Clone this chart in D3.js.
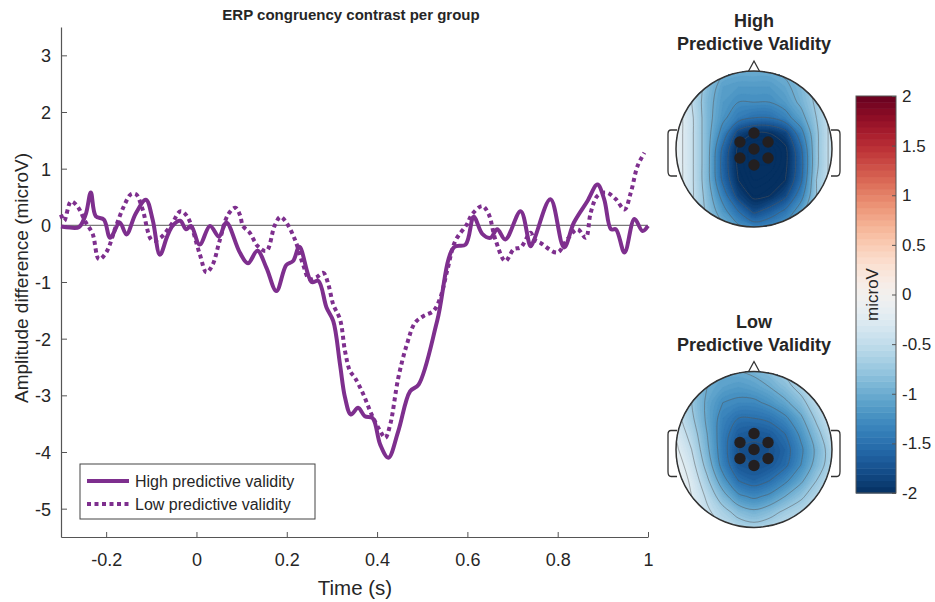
<!DOCTYPE html>
<html>
<head>
<meta charset="utf-8">
<script src="https://d3js.org/d3.v7.min.js"></script>
<style>
  body { margin: 0; background: #fff; }
  text { font-family: "Liberation Sans", Arial, sans-serif; fill: #262626; }
</style>
</head>
<body>
<script>
// ---- data ----
// [time (s), amplitude (microV)]
const highSeries = [
  [-0.3,-0.02],[-0.28,-0.04],[-0.26,-0.03],[-0.245,0.2],[-0.234,0.58],[-0.223,0.16],[-0.205,0.1],
  [-0.191,-0.22],[-0.17,0.05],[-0.155,-0.16],[-0.135,0.2],[-0.112,0.45],[-0.097,0.1],[-0.081,-0.52],
  [-0.065,-0.2],[-0.053,-0.01],[-0.036,0.08],[-0.023,-0.07],[-0.012,-0.01],[0.007,-0.34],[0.03,-0.01],
  [0.05,-0.2],[0.066,0.05],[0.096,-0.48],[0.114,-0.67],[0.135,-0.45],[0.155,-0.75],[0.177,-1.16],
  [0.199,-0.7],[0.214,-0.63],[0.228,-0.38],[0.255,-1.0],[0.27,-0.98],[0.288,-1.45],[0.303,-1.69],
  [0.318,-2.46],[0.329,-3.04],[0.342,-3.34],[0.358,-3.22],[0.373,-3.37],[0.39,-3.4],[0.407,-3.87],
  [0.425,-4.1],[0.447,-3.63],[0.473,-2.93],[0.492,-2.81],[0.533,-1.69],[0.57,-0.39],[0.596,-0.34],
  [0.614,0.15],[0.633,-0.15],[0.651,-0.22],[0.666,-0.07],[0.684,-0.25],[0.718,0.25],[0.74,-0.37],
  [0.748,-0.25],[0.784,0.46],[0.814,-0.39],[0.836,0.05],[0.866,0.43],[0.888,0.72],[0.903,0.46],
  [0.918,-0.07],[0.929,-0.07],[0.948,-0.48],[0.97,0.11],[0.988,-0.1],[1.0,-0.01]
];
const lowSeries = [
  [-0.3,0.19],[-0.293,0.08],[-0.278,0.42],[-0.264,0.34],[-0.245,0.05],[-0.23,-0.15],[-0.216,-0.6],
  [-0.2,-0.48],[-0.178,-0.01],[-0.16,0.35],[-0.145,0.55],[-0.134,0.55],[-0.12,0.3],[-0.098,-0.27],
  [-0.08,-0.22],[-0.055,0.02],[-0.035,0.25],[-0.02,0.15],[0.007,-0.5],[0.022,-0.83],[0.036,-0.69],
  [0.051,-0.28],[0.07,0.19],[0.086,0.31],[0.096,0.19],[0.103,-0.01],[0.118,-0.13],[0.136,-0.37],
  [0.155,-0.45],[0.173,-0.01],[0.186,0.15],[0.199,0.05],[0.218,-0.25],[0.236,-0.69],[0.25,-0.95],
  [0.265,-0.92],[0.281,-0.84],[0.292,-1.04],[0.303,-1.4],[0.318,-1.66],[0.329,-2.22],[0.34,-2.57],
  [0.351,-2.69],[0.37,-2.99],[0.388,-3.34],[0.407,-3.63],[0.418,-3.75],[0.429,-3.52],[0.447,-2.69],
  [0.466,-2.1],[0.484,-1.72],[0.503,-1.6],[0.525,-1.51],[0.54,-1.28],[0.555,-0.81],[0.573,-0.28],
  [0.599,0.02],[0.61,0.19],[0.633,0.34],[0.647,0.2],[0.662,-0.25],[0.684,-0.63],[0.703,-0.42],
  [0.718,-0.39],[0.74,-0.13],[0.748,-0.25],[0.762,-0.31],[0.799,-0.48],[0.821,-0.25],[0.844,-0.07],
  [0.862,-0.22],[0.873,0.22],[0.888,0.52],[0.907,0.58],[0.929,0.46],[0.948,0.28],[0.962,0.58],
  [0.977,1.05],[0.992,1.28]
];
const seriesNames = ["High predictive validity", "Low predictive validity"];
const xTicks = [-0.2, 0, 0.2, 0.4, 0.6, 0.8, 1];
const yTicks = [-5, -4, -3, -2, -1, 0, 1, 2, 3];
const cbarTicks = [-2, -1.5, -1, -0.5, 0, 0.5, 1, 1.5, 2];

// topography values (microV) on an 11x11 grid over the head, rows front -> back, columns left -> right
const highTopo = [
  [-0.2,-0.5,-0.8,-0.95,-1.0,-1.0,-1.0,-0.95,-0.8,-0.6,-0.4],
  [-0.2,-0.5,-0.85,-1.1,-1.15,-1.15,-1.15,-1.05,-0.9,-0.65,-0.4],
  [-0.15,-0.5,-0.9,-1.15,-1.25,-1.25,-1.25,-1.15,-0.95,-0.7,-0.4],
  [-0.1,-0.45,-0.9,-1.2,-1.4,-1.5,-1.5,-1.35,-1.1,-0.75,-0.4],
  [-0.1,-0.45,-0.9,-1.35,-1.85,-2.0,-2.0,-1.85,-1.35,-0.8,-0.4],
  [-0.1,-0.45,-0.9,-1.55,-2.05,-2.2,-2.2,-2.05,-1.55,-0.8,-0.4],
  [-0.1,-0.45,-0.9,-1.6,-2.05,-2.2,-2.2,-2.05,-1.6,-0.8,-0.4],
  [-0.1,-0.45,-0.9,-1.55,-2.0,-2.15,-2.1,-2.0,-1.55,-0.75,-0.4],
  [-0.15,-0.45,-0.85,-1.35,-1.85,-2.05,-2.0,-1.8,-1.35,-0.75,-0.4],
  [-0.2,-0.45,-0.8,-1.15,-1.5,-1.8,-1.65,-1.45,-1.1,-0.7,-0.4],
  [-0.25,-0.45,-0.7,-0.95,-1.2,-1.35,-1.3,-1.15,-0.95,-0.65,-0.4]
];
const lowTopo = [
  [-0.5,-0.7,-0.9,-1.0,-1.0,-0.95,-0.85,-0.7,-0.55,-0.4,-0.3],
  [-0.5,-0.75,-1.0,-1.1,-1.15,-1.1,-1.0,-0.85,-0.65,-0.45,-0.3],
  [-0.45,-0.75,-1.05,-1.25,-1.3,-1.3,-1.2,-1.05,-0.85,-0.55,-0.35],
  [-0.4,-0.7,-1.05,-1.35,-1.5,-1.5,-1.45,-1.3,-1.05,-0.7,-0.4],
  [-0.3,-0.6,-1.0,-1.4,-1.65,-1.7,-1.65,-1.5,-1.2,-0.85,-0.5],
  [-0.2,-0.5,-0.95,-1.4,-1.75,-1.8,-1.75,-1.6,-1.3,-0.95,-0.6],
  [-0.1,-0.4,-0.85,-1.35,-1.7,-1.75,-1.7,-1.55,-1.25,-0.9,-0.6],
  [-0.05,-0.3,-0.7,-1.15,-1.5,-1.6,-1.5,-1.3,-1.05,-0.75,-0.5],
  [-0.05,-0.25,-0.55,-0.9,-1.2,-1.3,-1.2,-1.0,-0.8,-0.6,-0.45],
  [-0.1,-0.25,-0.45,-0.65,-0.85,-0.95,-0.85,-0.7,-0.6,-0.5,-0.4],
  [-0.15,-0.25,-0.4,-0.5,-0.6,-0.65,-0.6,-0.5,-0.45,-0.4,-0.35]
];
// highlighted electrodes, head-normalised coordinates
const electrodes = [[0,-0.205],[-0.18,-0.09],[0.18,-0.09],[0,0],[-0.18,0.115],[0.18,0.115],[0,0.205]];

const purple = "#7E2F8E";
const W = 935, H = 602;

const svg = d3.select("body").append("svg")
  .attr("width", W).attr("height", H);

// ---- ERP line plot ----
const x = d3.scaleLinear().domain([-0.3, 1]).range([61, 648]);
const y = d3.scaleLinear().domain([-5.5, 3.5]).range([537, 27]);

svg.append("text")
  .attr("x", 351).attr("y", 20)
  .attr("text-anchor", "middle")
  .style("font-size", "15px").style("font-weight", "bold")
  .text("ERP congruency contrast per group");

// zero line
svg.append("line")
  .attr("x1", x(-0.3)).attr("x2", x(1))
  .attr("y1", y(0)).attr("y2", y(0))
  .attr("stroke", "#7a7a7a").attr("stroke-width", 1.2);

const fmt = d => String(d);

const xAxis = svg.append("g")
  .attr("transform", "translate(0," + y(-5.5) + ")")
  .call(d3.axisBottom(x).tickValues(xTicks).tickFormat(fmt).tickSize(-5).tickSizeOuter(0).tickPadding(16));
const yAxis = svg.append("g")
  .attr("transform", "translate(" + x(-0.3) + ",0)")
  .call(d3.axisLeft(y).tickValues(yTicks).tickFormat(fmt).tickSize(-6).tickSizeOuter(0).tickPadding(10));

[xAxis, yAxis].forEach(g => {
  g.select(".domain").attr("stroke", "#555").attr("stroke-width", 1.2);
  g.selectAll(".tick line").attr("stroke", "#555");
  g.selectAll(".tick text").style("font-size", "18px").attr("fill", "#262626")
    .style("font-family", "'Liberation Sans', Arial, sans-serif");
});
yAxis.selectAll(".tick text").attr("dy", "0.36em");

svg.append("text")
  .attr("x", 355).attr("y", 595)
  .attr("text-anchor", "middle")
  .style("font-size", "20.5px")
  .text("Time (s)");

svg.append("text")
  .attr("transform", "translate(28," + 278 + ") rotate(-90)")
  .attr("text-anchor", "middle")
  .style("font-size", "19px")
  .text("Amplitude difference (microV)");

const line = d3.line()
  .x(d => x(d[0])).y(d => y(d[1]))
  .curve(d3.curveCatmullRom.alpha(0.5));

svg.append("path").datum(lowSeries)
  .attr("d", line).attr("fill", "none")
  .attr("stroke", purple).attr("stroke-width", 4)
  .attr("stroke-dasharray", "4,3.5");
svg.append("path").datum(highSeries)
  .attr("d", line).attr("fill", "none")
  .attr("stroke", purple).attr("stroke-width", 4)
  .attr("stroke-linejoin", "round");

// legend
const leg = svg.append("g").attr("transform", "translate(80,464)");
leg.append("rect").attr("width", 235).attr("height", 55)
  .attr("fill", "#fff").attr("stroke", "#444").attr("stroke-width", 1);
seriesNames.forEach((name, i) => {
  const ly = 17 + i * 23;
  leg.append("line").attr("x1", 7).attr("x2", 49).attr("y1", ly).attr("y2", ly)
    .attr("stroke", purple).attr("stroke-width", 4)
    .attr("stroke-dasharray", i === 1 ? "4,3.5" : null);
  leg.append("text").attr("x", 55).attr("y", ly).attr("dy", "0.36em")
    .style("font-size", "16px").text(name);
});

// ---- topographies ----
const color = d3.scaleSequential(d3.interpolateRdBu).domain([2, -2]).clamp(true);
const fillSteps = d3.range(-2.3, 0.4, 0.05);
const lineSteps = d3.range(-2, 0.01, 0.25);
const ringLine = d3.line().curve(d3.curveCatmullRomClosed.alpha(0.5));

function drawHead(cx, cy, R, grid, title, id) {
  const g = svg.append("g");
  const n = grid.length;
  const values = grid.flat();
  const gx = d3.scaleLinear().domain([0.5, n - 0.5]).range([cx - R, cx + R]);
  const gy = d3.scaleLinear().domain([0.5, n - 0.5]).range([cy - R, cy + R]);
  const smoothPath = mp => mp.coordinates.map(poly => poly.map(ring =>
      ringLine(ring.slice(0, -1).map(p => [gx(p[0]), gy(p[1])]))).join("")).join("");

  g.append("text").attr("x", cx).attr("y", cy - 122)
    .attr("text-anchor", "middle").style("font-size", "18px").style("font-weight", "bold")
    .text(title[0]);
  g.append("text").attr("x", cx).attr("y", cy - 99)
    .attr("text-anchor", "middle").style("font-size", "18px").style("font-weight", "bold")
    .text(title[1]);

  // nose
  g.append("path")
    .attr("d", `M${cx - 7},${cy - R + 3} L${cx},${cy - R - 10} L${cx + 7},${cy - R + 3}`)
    .attr("fill", "#fff").attr("stroke", "#333").attr("stroke-width", 1.3);
  // ears
  [-1, 1].forEach(s => {
    const ex = cx + s * (R - 1), eo = cx + s * (R + 8);
    g.append("path")
      .attr("d", `M${ex},${cy - 19} L${eo - s * 3},${cy - 19} Q${eo},${cy - 19} ${eo},${cy - 15}
                  L${eo},${cy + 22} Q${eo},${cy + 27} ${eo - s * 3},${cy + 27} L${ex},${cy + 27}`)
      .attr("fill", "#fff").attr("stroke", "#333").attr("stroke-width", 1.3);
  });

  const clip = svg.append("clipPath").attr("id", id);
  clip.append("circle").attr("cx", cx).attr("cy", cy).attr("r", R);
  const inner = g.append("g").attr("clip-path", `url(#${id})`);

  const bands = d3.contours().size([n, n]).thresholds(fillSteps)(values);
  inner.selectAll("path.band").data(bands).join("path")
    .attr("class", "band")
    .attr("d", smoothPath)
    .attr("fill-rule", "evenodd")
    .attr("fill", d => color(d.value + 0.025))
    .attr("stroke", d => color(d.value + 0.025)).attr("stroke-width", 0.5);

  const iso = d3.contours().size([n, n]).thresholds(lineSteps)(values);
  inner.selectAll("path.iso").data(iso).join("path")
    .attr("class", "iso")
    .attr("d", smoothPath)
    .attr("fill", "none").attr("stroke", "#555").attr("stroke-opacity", 0.55).attr("stroke-width", 0.9);

  g.append("circle").attr("cx", cx).attr("cy", cy).attr("r", R)
    .attr("fill", "none").attr("stroke", "#333").attr("stroke-width", 1.5);

  const ex = d3.scaleLinear().domain([-1, 1]).range([cx - R, cx + R]);
  const ey = d3.scaleLinear().domain([-1, 1]).range([cy - R, cy + R]);
  g.selectAll("circle.el").data(electrodes).join("circle")
    .attr("class", "el")
    .attr("cx", d => ex(d[0])).attr("cy", d => ey(d[1])).attr("r", 5.7)
    .attr("fill", "#231f20");
}

drawHead(754, 149, 78, highTopo, ["High", "Predictive Validity"], "clipHigh");
drawHead(754, 449.5, 78, lowTopo, ["Low", "Predictive Validity"], "clipLow");

// ---- colorbar ----
const cb = d3.scaleLinear().domain([-2, 2]).range([493, 96]);
const cbX = 856, cbW = 40;
const nBands = 64;
const bandEdges = d3.range(nBands + 1).map(i => -2 + 4 * i / nBands);
svg.append("g").selectAll("rect").data(d3.pairs(bandEdges)).join("rect")
  .attr("x", cbX).attr("width", cbW)
  .attr("y", d => cb(d[1])).attr("height", d => cb(d[0]) - cb(d[1]) + 0.5)
  .attr("fill", d => color((d[0] + d[1]) / 2));
svg.append("rect").attr("x", cbX).attr("y", cb(2)).attr("width", cbW).attr("height", cb(-2) - cb(2))
  .attr("fill", "none").attr("stroke", "#555").attr("stroke-width", 1);
const cbAxis = svg.append("g")
  .attr("transform", "translate(" + (cbX + cbW) + ",0)")
  .call(d3.axisRight(cb).tickValues(cbarTicks).tickFormat(fmt).tickSize(-4).tickSizeOuter(0).tickPadding(6));
cbAxis.select(".domain").remove();
cbAxis.selectAll(".tick line").attr("stroke", "#555");
cbAxis.selectAll(".tick text").style("font-size", "17px").attr("fill", "#262626")
  .style("font-family", "'Liberation Sans', Arial, sans-serif");

svg.append("text")
  .attr("transform", "translate(878," + cb(0) + ") rotate(-90)")
  .attr("text-anchor", "middle")
  .style("font-size", "17px")
  .text("microV");
</script>
</body>
</html>
